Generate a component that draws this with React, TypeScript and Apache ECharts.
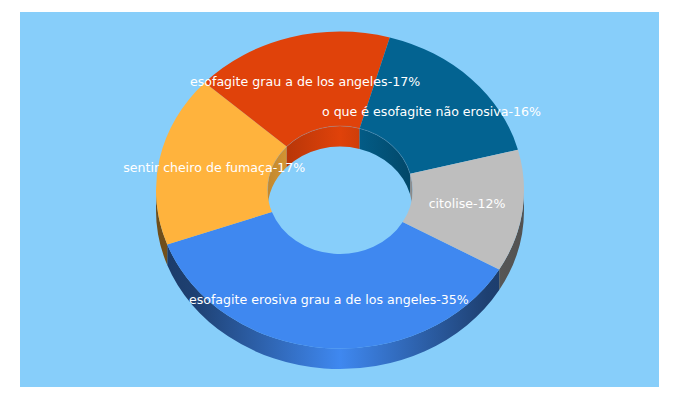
import React, { useEffect, useRef } from "react";
import * as echarts from "echarts";

const categories = [
  "esofagite erosiva grau a de los angeles",
  "sentir cheiro de fumaça",
  "esofagite grau a de los angeles",
  "o que é esofagite não erosiva",
  "citolise",
];
const labelPercents = [35, 17, 17, 16, 12];
const sliceShares = [36.05, 17.45, 17.5, 16.55, 12.45];
const sliceColors = ["#3f88f0", "#ffb33d", "#e0420a", "#036391", "#bebebe"];

const START_DEG = 30.1;
const CX = 340;
const CY = 190;
const RX = 184;
const RY = 158.5;
const IN_RX = 72.5;
const IN_RY = 64;
const DEPTH = 20.5;

const pt = (rx: number, ry: number, deg: number, dy = 0) => {
  const a = (deg * Math.PI) / 180;
  return [CX + rx * Math.cos(a), CY + dy + ry * Math.sin(a)];
};

const arc = (rx: number, ry: number, from: number, to: number, dy = 0) => {
  const [x, y] = pt(rx, ry, to, dy);
  const large = Math.abs(to - from) > 180 ? 1 : 0;
  const sweep = to > from ? 1 : 0;
  return `A${rx} ${ry} 0 ${large} ${sweep} ${x} ${y}`;
};

const wallPath = (rx: number, ry: number, a0: number, a1: number) => {
  const [x0, y0] = pt(rx, ry, a0);
  const [x1, y1] = pt(rx, ry, a1, DEPTH);
  return `M${x0} ${y0}${arc(rx, ry, a0, a1)}L${x1} ${y1}${arc(rx, ry, a1, a0, DEPTH)}Z`;
};

const rimPath = (rx: number, ry: number, a0: number, a1: number) => {
  const [x0, y0] = pt(rx, ry, a0);
  return `M${x0} ${y0}${arc(rx, ry, a0, a1)}`;
};

const topPath = (a0: number, a1: number) => {
  const [x0, y0] = pt(RX, RY, a0);
  const [x1, y1] = pt(IN_RX, IN_RY, a1);
  return `M${x0} ${y0}${arc(RX, RY, a0, a1)}L${x1} ${y1}${arc(IN_RX, IN_RY, a1, a0)}Z`;
};

const clipRange = (a0: number, a1: number, lo: number, hi: number) => {
  const out: [number, number][] = [];
  for (const k of [-360, 0, 360]) {
    const s = Math.max(a0, lo + k);
    const e = Math.min(a1, hi + k);
    if (e > s) out.push([s, e]);
  }
  return out;
};

const shade = (hex: string, f: number) => {
  const n = parseInt(hex.slice(1), 16);
  const c = [(n >> 16) & 255, (n >> 8) & 255, n & 255].map((v) => Math.round(v * f));
  return `rgb(${c[0]},${c[1]},${c[2]})`;
};

const gradient = (rx: number, base: string, stops: [number, number][]) => ({
  type: "linear",
  x: CX - rx,
  y: 0,
  x2: CX + rx,
  y2: 0,
  global: true,
  colorStops: stops.map(([offset, f]) => ({ offset, color: shade(base, f) })),
});

const OUTER_SHADE: [number, number][] = [[0, 0.43], [0.1, 0.47], [0.5, 1], [0.9, 0.47], [1, 0.43]];
const INNER_SHADE: [number, number][] = [[0, 0.76], [0.5, 1], [1, 0.72]];

const total = sliceShares.reduce((a, b) => a + b, 0);
let cursor = START_DEG;
const sliceRows = sliceShares.map((s) => {
  const from = cursor;
  cursor += (s / total) * 360;
  return [from, cursor];
});

const renderItem = (params: any, api: any) => {
  const i = params.dataIndex;
  const a0 = api.value(0);
  const a1 = api.value(1);
  const base = sliceColors[i];
  const children: any[] = [];
  for (const [s, e] of clipRange(a0, a1, 0, 180)) {
    children.push({
      type: "path",
      z2: 1,
      shape: { pathData: wallPath(RX, RY, s, e) },
      style: { fill: gradient(RX, base, OUTER_SHADE) },
    });
  }
  for (const [s, e] of clipRange(a0, a1, 180, 360)) {
    children.push({
      type: "path",
      z2: 1,
      shape: { pathData: wallPath(IN_RX, IN_RY, s, e) },
      style: { fill: gradient(IN_RX, base, INNER_SHADE) },
    });
    children.push({
      type: "path",
      z2: 3,
      shape: { pathData: rimPath(IN_RX, IN_RY, s, e) },
      style: { fill: "none", stroke: "rgba(150,170,190,0.45)", lineWidth: 0.7 },
    });
  }
  children.push({
    type: "path",
    z2: 2,
    shape: { pathData: topPath(a0, a1) },
    style: { fill: base },
  });
  const [lx, ly] = pt((RX + IN_RX) / 2, (RY + IN_RY) / 2, (a0 + a1) / 2);
  children.push({
    type: "text",
    z2: 4,
    style: {
      text: `${categories[i]}-${labelPercents[i]}%`,
      x: lx,
      y: ly - 1,
      fill: "#ffffff",
      font: '12.6px "DejaVu Sans"',
      align: "center",
      verticalAlign: "middle",
    },
  });
  return { type: "group", children };
};

export default function App() {
  const ref = useRef<HTMLDivElement>(null);
  useEffect(() => {
    const chart = echarts.init(ref.current!, null, { renderer: "svg" });
    chart.setOption({
      animation: false,
      backgroundColor: "#ffffff",
      graphic: [
        {
          type: "rect",
          z: -1,
          silent: true,
          shape: { x: 20, y: 12, width: 639, height: 375 },
          style: { fill: "#87cefa" },
        },
      ],
      series: [
        {
          type: "custom",
          coordinateSystem: "none",
          silent: true,
          renderItem,
          data: sliceRows,
        },
      ],
    });
    return () => chart.dispose();
  }, []);
  return (
    <div
      ref={ref}
      style={{ position: "absolute", left: 0, top: 0, width: 680, height: 400 }}
    />
  );
}
